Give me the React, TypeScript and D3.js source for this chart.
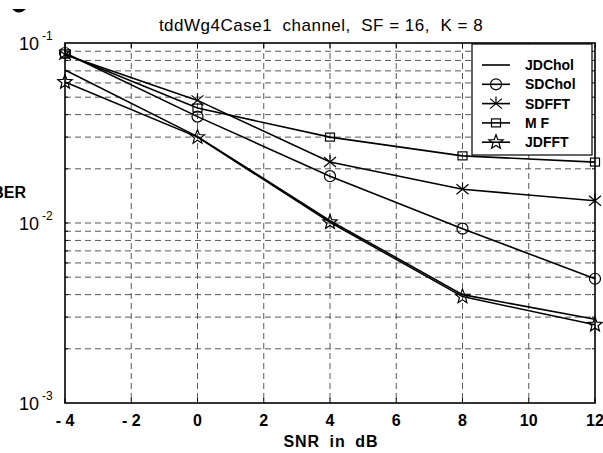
import React from "react";
import * as d3 from "d3";

// SNR points (dB) and BER for each receiver
const snr = [-4, 0, 4, 8, 12];
const jdChol = [0.0708, 0.0302, 0.0103, 0.004, 0.00292];
const sdChol = [0.088, 0.039, 0.0182, 0.0093, 0.0049];
const sdFft = [0.086, 0.048, 0.0218, 0.0154, 0.0133];
const mf = [0.087, 0.0435, 0.03, 0.0236, 0.0218];
const jdFft = [0.0607, 0.03, 0.0101, 0.0039, 0.00272];

const xTicks = [-4, -2, 0, 2, 4, 6, 8, 10, 12];
const xTickLabels = ["- 4", "- 2", "0", "2", "4", "6", "8", "10", "12"];
const yDecades = [-1, -2, -3];

const seriesNames = ["JDChol", "SDChol", "SDFFT", "M F", "JDFFT"];
const seriesValues = [jdChol, sdChol, sdFft, mf, jdFft];
const seriesMarkers = ["none", "circle", "asterisk", "square", "star"];

const FONT = "'Liberation Sans', Arial, Helvetica, sans-serif";

const Marker = ({ type, x, y }: { type: string; x: number; y: number }) => {
  const s = { stroke: "#000", strokeWidth: 1.2, fill: "none" };
  if (type === "circle") return <circle cx={x} cy={y} r={5.5} {...s} />;
  if (type === "square") return <rect x={x - 4.5} y={y - 4} width={9} height={8} {...s} />;
  if (type === "asterisk")
    return (
      <path
        d={`M${x - 6},${y - 5}L${x + 6},${y + 5}M${x - 6},${y + 5}L${x + 6},${y - 5}M${x},${y - 7}L${x},${y + 1}`}
        {...s}
      />
    );
  if (type === "star") {
    const pts = d3.range(10).map((i) => {
      const a = -Math.PI / 2 + (i * Math.PI) / 5;
      const r = i % 2 === 0 ? 7.5 : 3.2;
      return [x + r * Math.cos(a), y + r * Math.sin(a)];
    });
    return <path d={"M" + pts.map((p) => p.join(",")).join("L") + "Z"} {...s} />;
  }
  return null;
};

export default function App() {
  const width = 603;
  const height = 453;
  const left = 65;
  const right = 595;
  const top = 43;
  const bottom = 403;

  const x = d3.scaleLinear().domain([-4, 12]).range([left, right]);
  const y = d3.scaleLog().domain([1e-3, 1e-1]).range([bottom, top]);

  // minor log gridlines (2..9 x 10^k) plus the 10^-2 line
  const yGrid: number[] = [];
  [-3, -2].forEach((k) => {
    d3.range(1, 10).forEach((m) => {
      const v = m * Math.pow(10, k);
      if (v > 1e-3 && v < 1e-1) yGrid.push(v);
    });
  });

  const line = d3
    .line<number>()
    .x((d, i) => x(snr[i]))
    .y((d) => y(d));

  const legX = 472;
  const legY = 44;

  return (
    <svg
      width={width}
      height={height}
      style={{ position: "absolute", left: 0, top: 0, background: "#fff" }}
    >
      <rect width={width} height={height} fill="#fff" />

      {/* cropped glyph remnant top-left */}
      <path d="M12,9 Q19,16 26,9 Z" fill="#000" />

      {/* grid */}
      <g stroke="#444" strokeWidth={0.9} strokeDasharray="6,4">
        {xTicks.slice(1, -1).map((t) => (
          <line key={"gx" + t} x1={x(t)} x2={x(t)} y1={top} y2={bottom} />
        ))}
        {yGrid.map((v, i) => (
          <line key={"gy" + i} x1={left} x2={right} y1={y(v)} y2={y(v)} />
        ))}
      </g>

      {/* ticks */}
      <g stroke="#000" strokeWidth={1}>
        {xTicks.map((t) => (
          <g key={"tx" + t}>
            <line x1={x(t)} x2={x(t)} y1={bottom} y2={bottom - 5} />
            <line x1={x(t)} x2={x(t)} y1={top} y2={top + 5} />
          </g>
        ))}
        {yGrid.map((v, i) => (
          <g key={"ty" + i}>
            <line x1={left} x2={left + 3} y1={y(v)} y2={y(v)} />
            <line x1={right} x2={right - 3} y1={y(v)} y2={y(v)} />
          </g>
        ))}
      </g>

      {/* series lines */}
      {seriesValues.map((vals, si) => (
        <path
          key={"l" + si}
          d={line(vals) || ""}
          fill="none"
          stroke="#000"
          strokeWidth={1.6}
        />
      ))}
      {seriesValues.map((vals, si) =>
        vals.map((v, i) => (
          <Marker key={"m" + si + "-" + i} type={seriesMarkers[si]} x={x(snr[i])} y={y(v)} />
        ))
      )}

      {/* axes box */}
      <rect
        x={left}
        y={top}
        width={right - left}
        height={bottom - top}
        fill="none"
        stroke="#000"
        strokeWidth={1.6}
      />

      {/* legend */}
      <rect
        x={legX}
        y={legY}
        width={120}
        height={111}
        fill="#fff"
        stroke="#000"
        strokeWidth={1.2}
      />
      {seriesNames.map((name, i) => {
        const ly = legY + 21 + i * 19.3;
        return (
          <g key={"leg" + i}>
            <line x1={legX + 10} x2={legX + 38} y1={ly} y2={ly} stroke="#000" strokeWidth={1.6} />
            <Marker type={seriesMarkers[i]} x={legX + 24} y={ly} />
            <text
              x={legX + 53}
              y={ly + 5}
              fontFamily={FONT}
              fontWeight="bold"
              fontSize={14}
            >
              {name}
            </text>
          </g>
        );
      })}

      {/* y tick labels */}
      {yDecades.map((k) => {
        const yy = y(Math.pow(10, k));
        return (
          <text key={"yl" + k} fontFamily={FONT} fill="#000">
            <tspan x={39} y={yy + 7} textAnchor="end" fontSize={18}>
              10
            </tspan>
            <tspan x={42} y={yy - 3} fontSize={12}>
              {"-" + -k}
            </tspan>
          </text>
        );
      })}

      {/* x tick labels */}
      {xTicks.map((t, i) => (
        <text
          key={"xl" + t}
          x={x(t)}
          y={426}
          textAnchor="middle"
          fontFamily={FONT}
          fontWeight="bold"
          fontSize={16}
          style={{ whiteSpace: "pre" }}
        >
          {xTickLabels[i]}
        </text>
      ))}

      <text
        x={331}
        y={447}
        textAnchor="middle"
        fontFamily={FONT}
        fontWeight="bold"
        fontSize={16}
        letterSpacing={1}
        wordSpacing={4}
      >
        SNR in dB
      </text>

      <text x={26} y={198} textAnchor="end" fontFamily={FONT} fontWeight="bold" fontSize={16}>
        BER
      </text>

      <text
        x={321}
        y={31}
        textAnchor="middle"
        fontFamily={FONT}
        fontSize={17}
        letterSpacing={0.5}
        style={{ whiteSpace: "pre" }}
      >
        {"tddWg4Case1  channel,  SF = 16,  K = 8"}
      </text>
    </svg>
  );
}
